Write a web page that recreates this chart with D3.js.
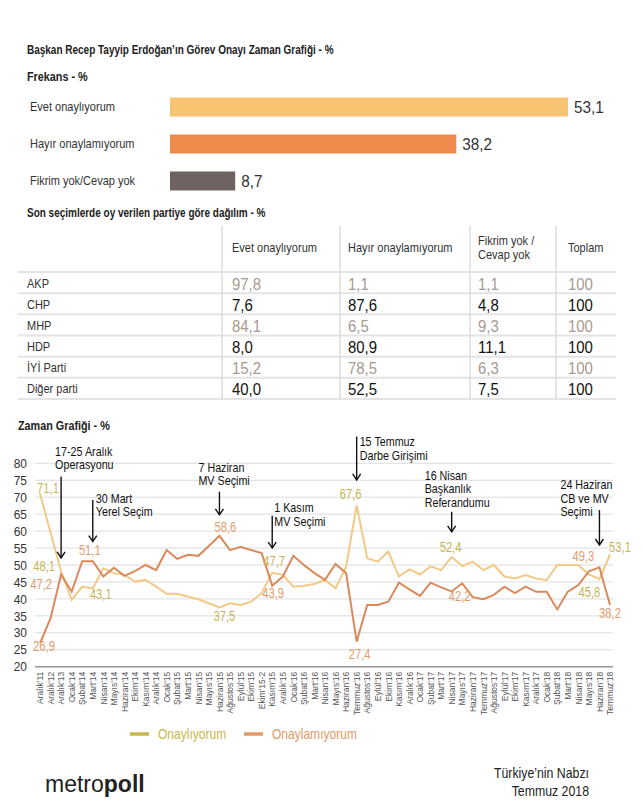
<!DOCTYPE html>
<html>
<head>
<meta charset="utf-8">
<script src="https://cdn.jsdelivr.net/npm/d3@7"></script>
<style>
body { margin: 0; background: #fff; }
text { font-family: "Liberation Sans", Arial, sans-serif; }
</style>
</head>
<body>
<div id="chart"></div>
<script>
// frekans
var freqLabels = ["Evet onaylıyorum", "Hayır onaylamıyorum", "Fikrim yok/Cevap yok"];
var freqValues = [53.1, 38.2, 8.7];

// tablo
var tableHeaders = [["Evet onaylıyorum"], ["Hayır onaylamıyorum"], ["Fikrim yok /", "Cevap yok"], ["Toplam"]];
var parties = ["AKP", "CHP", "MHP", "HDP", "İYİ Parti", "Diğer parti"];
var evetCol = ["97,8", "7,6", "84,1", "8,0", "15,2", "40,0"];
var hayirCol = ["1,1", "87,6", "6,5", "80,9", "78,5", "52,5"];
var fikrimCol = ["1,1", "4,8", "9,3", "11,1", "6,3", "7,5"];
var toplamCol = ["100", "100", "100", "100", "100", "100"];

// zaman grafigi
var months = ["Aralık'11", "Aralık'12", "Aralık'13", "Ocak'14", "Şubat'14", "Mart'14", "Nisan'14", "Mayıs'14", "Haziran'14",
  "Ekim'14", "Kasım'14", "Aralık'14", "Ocak'15", "Şubat'15", "Mart'15", "Nisan'15", "Mayıs'15", "Haziran'15", "Ağustos'15",
  "Eylül'15", "Ekim'15", "Ekim'15-2", "Kasım'15", "Aralık'15", "Ocak'16", "Şubat'16", "Mart'16", "Nisan'16", "Mayıs'16",
  "Haziran'16", "Temmuz'16", "Ağustos'16", "Eylül'16", "Ekim'16", "Kasım'16", "Aralık'16", "Ocak'17", "Şubat'17", "Mart'17",
  "Nisan'17", "Mayıs'17", "Haziran'17", "Temmuz'17", "Ağustos'17", "Eylül'17", "Ekim'17", "Kasım'17", "Aralık'17", "Ocak'18",
  "Şubat'18", "Mart'18", "Nisan'18", "Mayıs'18", "Haziran'18", "Temmuz'18"];
var onayValues = [71.1, 59.5, 48.1, 39.7, 43.6, 43.1, 49.0, 47.6, 47.1,
  45.1, 45.6, 43.6, 41.5, 41.5, 40.7, 39.9, 38.7, 37.5, 38.7,
  38.2, 39.2, 41.7, 47.7, 47.1, 43.6, 43.9, 44.4, 45.6, 43.1,
  49.5, 67.6, 52.0, 51.0, 54.0, 46.6, 48.7, 47.2, 49.6, 48.5,
  52.4, 49.7, 51.0, 48.5, 50.0, 46.6, 46.0, 47.0, 46.0, 45.5,
  50.0, 50.0, 50.0, 47.2, 45.8, 53.1];
var onaylamiyorValues = [26.9, 34.3, 47.2, 42.1, 51.1, 51.1, 46.6, 49.2, 46.8,
  48.2, 50.0, 48.5, 54.4, 51.8, 53.0, 52.7, 55.6, 58.6, 54.4,
  55.4, 54.4, 53.5, 43.9, 46.6, 52.7, 50.0, 47.6, 45.6, 50.3,
  47.6, 27.4, 38.2, 38.2, 39.2, 44.8, 42.8, 40.9, 44.8, 43.4,
  42.2, 44.6, 40.5, 39.9, 41.2, 43.6, 41.7, 43.6, 42.1, 42.1,
  36.9, 42.1, 44.1, 48.1, 49.3, 38.2];

// etiketlenen noktalar: indeks, kaydirma x, kaydirma y
var onayNotes = [[0, 8, 0], [2, -17, 0], [5, 8, 11], [17, 5, 14], [22, 2, -7], [30, -6, -6], [39, -1, -5], [53, -10, 18], [54, 10, -2]];
var redNotes = [[0, 4, 8], [2, -20, 15], [5, -3, -6], [17, 6, -4], [22, 1, 12], [30, 3, 17], [39, 8, 10], [53, -16, -6], [54, 0, 13]];

var events = [
  {i: 2, lines: ["17-25 Aralık", "Operasyonu"], dx: -6, text: 82.2, from: 76.1, to: 52.1},
  {i: 5, lines: ["30 Mart", "Yerel Seçim"], dx: 3, text: 68.3, from: 69.2, to: 56.9},
  {i: 17, lines: ["7 Haziran", "MV Seçimi"], dx: -21, text: 77.5, from: 71.6, to: 64.8},
  {i: 22, lines: ["1 Kasım", "MV Seçimi"], dx: 2, text: 65.6, from: 64.5, to: 55.0},
  {i: 30, lines: ["15 Temmuz", "Darbe Girişimi"], dx: 3, text: 85.1, from: 87.9, to: 75.1},
  {i: 39, lines: ["16 Nisan", "Başkanlık", "Referandumu"], dx: -27, text: 75.1, from: 65.7, to: 59.8},
  {i: 53, lines: ["24 Haziran", "CB  ve MV", "Seçimi"], dx: -39, text: 72.4, from: 66.2, to: 55.9}
];

// dar yazi tipi icin yatay sikistirma
function squeeze(sel, k) {
  sel.each(function() {
    var el = d3.select(this);
    var tx = el.attr("x");
    if (tx === null) {
      var ts = el.select("tspan");
      tx = ts.empty() ? 0 : ts.attr("x");
    }
    tx = +tx || 0;
    var prev = el.attr("transform") || "";
    el.attr("transform", `${prev} translate(${tx},0) scale(${k},1) translate(${-tx},0)`);
  });
}

var svg = d3.select("#chart").append("svg")
  .attr("width", 643)
  .attr("height", 811);

// basliklar
var titles = svg.append("g");
titles.append("text").attr("x", 27).attr("y", 54)
  .attr("font-size", "12.5px").attr("font-weight", "bold").attr("fill", "#222")
  .text("Başkan Recep Tayyip Erdoğan’ın Görev Onayı Zaman Grafiği - %");
titles.append("text").attr("x", 27).attr("y", 81)
  .attr("font-size", "13.5px").attr("font-weight", "bold").attr("fill", "#222")
  .text("Frekans - %");
titles.append("text").attr("x", 27).attr("y", 217)
  .attr("font-size", "12.5px").attr("font-weight", "bold").attr("fill", "#222")
  .text("Son seçimlerde oy verilen partiye göre dağılım - %");
titles.append("text").attr("x", 18).attr("y", 430)
  .attr("font-size", "13.5px").attr("font-weight", "bold").attr("fill", "#222")
  .text("Zaman Grafiği - %");
squeeze(titles.selectAll("text"), 0.8);

// bar grafigi
var barColors = ["#f8c471", "#ef8a4c", "#6e6360"];
var xBar = d3.scaleLinear().domain([0, d3.max(freqValues)]).range([170, 568]);
var yBar = d3.scalePoint().domain(freqLabels).range([107, 181]);

var barGroup = svg.append("g");
barGroup.selectAll("rect")
  .data(freqValues)
  .enter()
  .append("rect")
  .attr("x", xBar(0))
  .attr("y", (d, i) => yBar(freqLabels[i]) - 9.5)
  .attr("width", d => xBar(d) - xBar(0))
  .attr("height", 19)
  .attr("fill", (d, i) => barColors[i]);

var barLabels = barGroup.selectAll(".blabel")
  .data(freqLabels)
  .enter()
  .append("text")
  .attr("x", 30)
  .attr("y", d => yBar(d) + 4)
  .attr("font-size", "12.5px")
  .attr("fill", "#333")
  .text(d => d);
squeeze(barLabels, 0.88);

var barValues = barGroup.selectAll(".bvalue")
  .data(freqValues)
  .enter()
  .append("text")
  .attr("x", d => xBar(d) + 6)
  .attr("y", (d, i) => yBar(freqLabels[i]) + 6)
  .attr("font-size", "17px")
  .attr("fill", "#333")
  .text(d => String(d).replace(".", ","));
squeeze(barValues, 0.9);

// tablo
var colText = [232, 348, 478, 568];
var colSep = [222, 340, 470, 556];
var yRow = d3.scaleBand().domain(parties).range([272, 399]);
var tableGroup = svg.append("g");

tableGroup.selectAll(".hline")
  .data([272].concat(parties.map(p => yRow(p) + yRow.bandwidth())))
  .enter()
  .append("line")
  .attr("x1", 18).attr("x2", 616)
  .attr("y1", d => d).attr("y2", d => d)
  .attr("stroke", "#e4e4e4")
  .attr("stroke-width", 2);

tableGroup.selectAll(".vline")
  .data(colSep)
  .enter()
  .append("line")
  .attr("x1", d => d).attr("x2", d => d)
  .attr("y1", 226).attr("y2", 399)
  .attr("stroke", "#dcdcdc")
  .attr("stroke-width", 1.5);

tableHeaders.forEach(function(h, c) {
  var t = tableGroup.append("text")
    .attr("class", "thead")
    .attr("font-size", "12.5px")
    .attr("fill", "#333");
  h.forEach(function(line, k) {
    t.append("tspan")
      .attr("x", colText[c])
      .attr("y", (h.length === 1 ? 252 : 245) + k * 14)
      .text(line);
  });
});
squeeze(tableGroup.selectAll(".thead"), 0.88);

var partyLabels = tableGroup.selectAll(".party")
  .data(parties)
  .enter()
  .append("text")
  .attr("x", 27)
  .attr("y", d => yRow(d) + yRow.bandwidth() / 2 + 5)
  .attr("font-size", "12.5px")
  .attr("fill", "#333")
  .text(d => d);
squeeze(partyLabels, 0.88);

[evetCol, hayirCol, fikrimCol, toplamCol].forEach(function(col, c) {
  var cells = tableGroup.selectAll(".c" + c)
    .data(col)
    .enter()
    .append("text")
    .attr("class", "c" + c)
    .attr("x", colText[c])
    .attr("y", (d, i) => yRow(parties[i]) + yRow.bandwidth() / 2 + 7)
    .attr("font-size", "17px")
    .attr("fill", (d, i) => i % 2 === 0 ? "#a89a8f" : "#111")
    .text(d => d);
  squeeze(cells, 0.88);
});

// zaman grafigi
var x = d3.scalePoint().domain(months).range([40, 610]);
var y = d3.scaleLinear().domain([20, 80]).range([666.7, 463.3]);

var chartGroup = svg.append("g");

chartGroup.selectAll(".grid")
  .data(d3.range(25, 81, 5))
  .enter()
  .append("line")
  .attr("x1", 35).attr("x2", 613)
  .attr("y1", d => y(d)).attr("y2", d => y(d))
  .attr("stroke", "#dcdcdc")
  .attr("stroke-width", 1);

var leftAxis = d3.axisLeft(y).tickValues(d3.range(20, 81, 5)).tickSize(0).tickPadding(0);
var yAxis = chartGroup.append("g")
  .attr("transform", "translate(27,0)")
  .call(leftAxis);
yAxis.select(".domain").remove();
yAxis.selectAll("text")
  .attr("font-size", "13px")
  .attr("fill", "#333");
squeeze(yAxis.selectAll("text"), 0.92);

chartGroup.append("line")
  .attr("x1", 35).attr("x2", 613)
  .attr("y1", y(20)).attr("y2", y(20))
  .attr("stroke", "#999")
  .attr("stroke-width", 1.5);

var bottomAxis = d3.axisBottom(x).tickSize(0);
var xAxis = chartGroup.append("g")
  .attr("transform", `translate(0,${y(20)})`)
  .call(bottomAxis);
xAxis.select(".domain").remove();
xAxis.selectAll("text")
  .attr("transform", "rotate(-90)")
  .attr("text-anchor", "end")
  .attr("x", -5)
  .attr("y", 0)
  .attr("dy", "0.32em")
  .attr("font-size", "8.5px")
  .attr("fill", "#555");

var onayColor = "#f2c987";
var redColor = "#d9895b";

var lineGen = d3.line()
  .x((d, i) => x(months[i]))
  .y(d => y(d));

chartGroup.append("path")
  .datum(onayValues)
  .attr("d", lineGen)
  .attr("fill", "none")
  .attr("stroke", onayColor)
  .attr("stroke-width", 2);

chartGroup.append("path")
  .datum(onaylamiyorValues)
  .attr("d", lineGen)
  .attr("fill", "none")
  .attr("stroke", redColor)
  .attr("stroke-width", 2);

function addNotes(notes, values, color) {
  var labels = chartGroup.append("g")
    .selectAll("text")
    .data(notes)
    .enter()
    .append("text")
    .attr("x", d => x(months[d[0]]) + d[1])
    .attr("y", d => y(values[d[0]]) + d[2])
    .attr("text-anchor", "middle")
    .attr("font-size", "14px")
    .attr("fill", color)
    .text(d => values[d[0]].toFixed(1).replace(".", ","));
  squeeze(labels, 0.8);
}
addNotes(onayNotes, onayValues, "#c6b457");
addNotes(redNotes, onaylamiyorValues, "#e29d6c");

// olay oklari
var eventGroup = chartGroup.append("g");
events.forEach(function(ev) {
  var ex = x(months[ev.i]);
  var t = eventGroup.append("text")
    .attr("class", "event")
    .attr("font-size", "12.5px")
    .attr("fill", "#111");
  ev.lines.forEach(function(line, k) {
    t.append("tspan")
      .attr("x", ex + ev.dx)
      .attr("y", y(ev.text) + k * 13.5)
      .text(line);
  });
  eventGroup.append("line")
    .attr("x1", ex).attr("x2", ex)
    .attr("y1", y(ev.from)).attr("y2", y(ev.to))
    .attr("stroke", "#111")
    .attr("stroke-width", 1.4);
  eventGroup.append("path")
    .attr("d", `M${ex - 4},${y(ev.to) - 6}L${ex},${y(ev.to)}L${ex + 4},${y(ev.to) - 6}`)
    .attr("fill", "none")
    .attr("stroke", "#111")
    .attr("stroke-width", 1.4);
});
squeeze(eventGroup.selectAll(".event"), 0.86);

// legend
var legend = svg.append("g");
var legendItems = [["Onaylıyorum", "#c8b84a", 130], ["Onaylamıyorum", "#e29a68", 244]];
legend.selectAll("line")
  .data(legendItems)
  .enter()
  .append("line")
  .attr("x1", d => d[2]).attr("x2", d => d[2] + 19)
  .attr("y1", 734).attr("y2", 734)
  .attr("stroke", d => d[1])
  .attr("stroke-width", 3.5);
var legendText = legend.selectAll("text")
  .data(legendItems)
  .enter()
  .append("text")
  .attr("x", d => d[2] + 28)
  .attr("y", 739)
  .attr("font-size", "14px")
  .attr("fill", d => d[1])
  .text(d => d[0]);
squeeze(legendText, 0.86);

// alt bilgi
var footer = svg.append("g");
var logo = footer.append("text").attr("x", 45).attr("y", 792)
  .attr("font-size", "23px").attr("fill", "#222");
logo.append("tspan").text("metro");
logo.append("tspan").attr("font-weight", "bold").text("poll");

var source = footer.append("g");
source.append("text").attr("x", 589).attr("y", 778)
  .attr("text-anchor", "end").attr("font-size", "14px").attr("fill", "#222")
  .text("Türkiye’nin Nabzı");
source.append("text").attr("x", 589).attr("y", 796)
  .attr("text-anchor", "end").attr("font-size", "14px").attr("fill", "#222")
  .text("Temmuz 2018");
squeeze(source.selectAll("text"), 0.88);
</script>
</body>
</html>
